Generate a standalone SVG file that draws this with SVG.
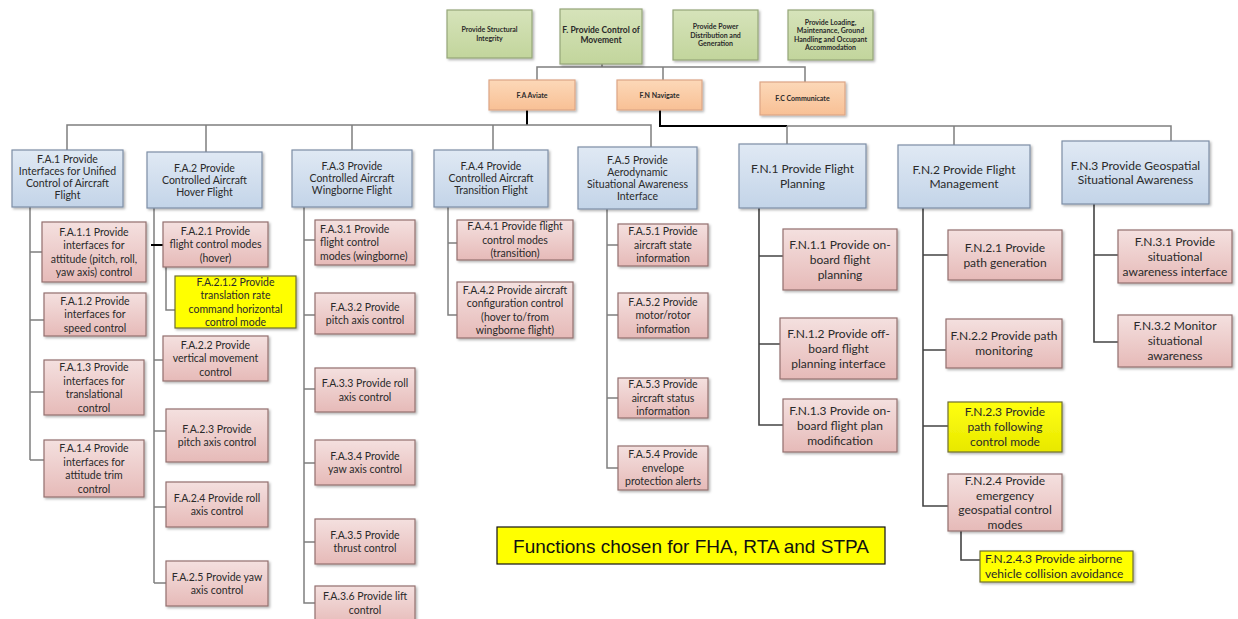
<svg xmlns="http://www.w3.org/2000/svg" width="1238" height="619" viewBox="0 0 1238 619">
  <defs>
    <linearGradient id="gBlue" x1="0" y1="0" x2="0" y2="1">
      <stop offset="0" stop-color="#e0e9f4"/>
      <stop offset="1" stop-color="#c3d4e8"/>
    </linearGradient>
    <linearGradient id="gPink" x1="0" y1="0" x2="0" y2="1">
      <stop offset="0" stop-color="#f4e0df"/>
      <stop offset="1" stop-color="#e6bab8"/>
    </linearGradient>
    <linearGradient id="gGreen" x1="0" y1="0" x2="0" y2="1">
      <stop offset="0" stop-color="#d6e3ba"/>
      <stop offset="1" stop-color="#c2d59c"/>
    </linearGradient>
    <linearGradient id="gOrange" x1="0" y1="0" x2="0" y2="1">
      <stop offset="0" stop-color="#fcd8b8"/>
      <stop offset="1" stop-color="#f8c095"/>
    </linearGradient>
    <linearGradient id="gYellow" x1="0" y1="0" x2="0" y2="1">
      <stop offset="0" stop-color="#ffff10"/>
      <stop offset="1" stop-color="#e8e800"/>
    </linearGradient>
    <filter id="shadow" x="-10%" y="-10%" width="130%" height="140%">
      <feDropShadow dx="1.5" dy="1.5" stdDeviation="1" flood-color="#000" flood-opacity="0.3"/>
    </filter>
  </defs>
  <style>
    rect { filter: url(#shadow); stroke-width: 1.2; }
    .green { fill: url(#gGreen); stroke: #95a679; }
    .orange { fill: url(#gOrange); stroke: #dca585; }
    .blue { fill: url(#gBlue); stroke: #7d8ea6; }
    .pink { fill: url(#gPink); stroke: #93706f; }
    .yellow { fill: #ffff00; stroke: #6f6f30; }
    .yellow2 { fill: url(#gYellow); stroke: #6f6f30; }
    text { font-family: Lato, "Open Sans", "Liberation Sans", sans-serif; fill: #2a2a2a; text-anchor: middle; }
    .tb { font-size: 7px; font-weight: bold; }
    .tb2 { font-size: 8.5px; font-weight: bold; }
    .fa { font-size: 10.5px; }
    .fn { font-size: 12px; }
    .left { text-anchor: start; }
    .legend { font-family: "Liberation Sans", Arial, sans-serif; font-size: 19px; fill: #111; }
    .c { fill: none; stroke: #7f7f7f; stroke-width: 1.5; }
    .cd { fill: none; stroke: #444; stroke-width: 1.6; }
    .ck { fill: none; stroke: #000; stroke-width: 2; }
  </style>

  <!-- connectors -->
  <g id="connectors">
    <!-- top level -->
    <path class="c" d="M602 64 V67 M537 80 V67 H805 V82 M663 67 V80"/>
    <!-- Aviate branch -->
    <path class="ck" d="M527 110 V125"/>
    <path class="c" d="M67 150 V125 H651 V147 M206 125 V152 M352 125 V150 M493 125 V150"/>
    <!-- Navigate branch -->
    <path class="ck" d="M660 110 V126 H787"/>
    <path class="c" d="M787 126 H1171 V141 M787 126 V144 M954 126 V145"/>
    <!-- F.A.1 children -->
    <path class="c" d="M30 207 V460 M30 252 H42 M30 320 H44 M30 392 H44 M30 460 H44"/>
    <!-- F.A.2 children -->
    <path class="c" d="M154 208 V583 M154 360 H163 M154 431 H166 M154 507 H166 M154 583 H166"/>
    <path class="ck" d="M151 245 H163"/>
    <path class="c" d="M166 267 V310 H175"/>
    <!-- F.A.3 children -->
    <path class="c" d="M304 207 V603 H315 M304 240 H315 M304 315 H315 M304 389 H315 M304 463 H315 M304 542 H315"/>
    <!-- F.A.4 children -->
    <path class="c" d="M448 207 V315 H457 M448 243 H457"/>
    <!-- F.A.5 children -->
    <path class="c" d="M607 209 V468 H618 M607 245 H618 M607 315 H618 M607 398 H618"/>
    <!-- F.N.1 children -->
    <path class="cd" d="M759 208 V425 H783 M759 256 H783 M759 344 H780"/>
    <!-- F.N.2 children -->
    <path class="cd" d="M923 208 V506 H948 M923 255 H948 M923 350 H946 M923 426 H948"/>
    <path class="cd" d="M961 531 V560 H980"/>
    <!-- F.N.3 children -->
    <path class="cd" d="M1094 204 V342 H1118 M1094 255 H1118"/>
  </g>

  <!-- top level functions -->
  <g id="structural">
    <rect class="green" x="447" y="10" width="85" height="48"/>
    <text class="tb" x="489.5" y="32"><tspan x="489.5">Provide Structural</tspan><tspan x="489.5" dy="8.5">Integrity</tspan></text>
  </g>
  <g id="f">
    <rect class="green" x="560" y="9" width="82" height="55"/>
    <text class="tb2" x="601" y="33"><tspan x="601">F. Provide Control of</tspan><tspan x="601" dy="10">Movement</tspan></text>
  </g>
  <g id="power">
    <rect class="green" x="673" y="10" width="85" height="50"/>
    <text class="tb" x="715.5" y="29"><tspan x="715.5">Provide Power</tspan><tspan x="715.5" dy="8.5">Distribution and</tspan><tspan x="715.5" dy="8.5">Generation</tspan></text>
  </g>
  <g id="loading">
    <rect class="green" x="788" y="10" width="85" height="50"/>
    <text class="tb" x="830.5" y="24.5"><tspan x="830.5">Provide Loading,</tspan><tspan x="830.5" dy="8.5">Maintenance, Ground</tspan><tspan x="830.5" dy="8.5">Handling and Occupant</tspan><tspan x="830.5" dy="8.5">Accommodation</tspan></text>
  </g>

  <g id="fa">
    <rect class="orange" x="489" y="80" width="86" height="30"/>
    <text class="tb" x="532" y="97.5">F.A Aviate</text>
  </g>
  <g id="fn">
    <rect class="orange" x="617" y="80" width="85" height="30"/>
    <text class="tb" x="659.5" y="97.5">F.N Navigate</text>
  </g>
  <g id="fc">
    <rect class="orange" x="760" y="82" width="85" height="33"/>
    <text class="tb" x="802.5" y="101">F.C Communicate</text>
  </g>

  <!-- F.A.1 -->
  <g id="fa1">
    <rect class="blue" x="12" y="150" width="111" height="57"/>
    <text class="fa" y="163"><tspan x="67.5">F.A.1 Provide</tspan><tspan x="67.5" dy="12">Interfaces for Unified</tspan><tspan x="67.5" dy="12">Control of Aircraft</tspan><tspan x="67.5" dy="12">Flight</tspan></text>
  </g>
  <g id="fa11">
    <rect class="pink" x="42" y="222" width="104" height="60"/>
    <text class="fa" y="235.5"><tspan x="94">F.A.1.1 Provide</tspan><tspan x="94" dy="13.5">interfaces for</tspan><tspan x="94" dy="13.5">attitude (pitch, roll,</tspan><tspan x="94" dy="13.5">yaw axis) control</tspan></text>
  </g>
  <g id="fa12">
    <rect class="pink" x="44" y="293" width="102" height="43"/>
    <text class="fa" y="304.8"><tspan x="95">F.A.1.2 Provide</tspan><tspan x="95" dy="13.5">interfaces for</tspan><tspan x="95" dy="13.5">speed control</tspan></text>
  </g>
  <g id="fa13">
    <rect class="pink" x="44" y="360" width="100" height="55"/>
    <text class="fa" y="371"><tspan x="94">F.A.1.3 Provide</tspan><tspan x="94" dy="13.5">interfaces for</tspan><tspan x="94" dy="13.5">translational</tspan><tspan x="94" dy="13.5">control</tspan></text>
  </g>
  <g id="fa14">
    <rect class="pink" x="44" y="440" width="100" height="57"/>
    <text class="fa" y="452"><tspan x="94">F.A.1.4 Provide</tspan><tspan x="94" dy="13.5">interfaces for</tspan><tspan x="94" dy="13.5">attitude trim</tspan><tspan x="94" dy="13.5">control</tspan></text>
  </g>

  <!-- F.A.2 -->
  <g id="fa2">
    <rect class="blue" x="147" y="152" width="115" height="56"/>
    <text class="fa" y="171.8"><tspan x="204.5">F.A.2 Provide</tspan><tspan x="204.5" dy="12">Controlled Aircraft</tspan><tspan x="204.5" dy="12">Hover Flight</tspan></text>
  </g>
  <g id="fa21">
    <rect class="pink" x="163" y="222" width="105" height="45"/>
    <text class="fa" y="234.8"><tspan x="215.5">F.A.2.1 Provide</tspan><tspan x="215.5" dy="13.5">flight control modes</tspan><tspan x="215.5" dy="13.5">(hover)</tspan></text>
  </g>
  <g id="fa212">
    <rect class="yellow" x="175" y="276" width="121" height="52"/>
    <text class="fa" y="285.5"><tspan x="235.5">F.A.2.1.2 Provide</tspan><tspan x="235.5" dy="13.5">translation rate</tspan><tspan x="235.5" dy="13.5">command horizontal</tspan><tspan x="235.5" dy="13.5">control mode</tspan></text>
  </g>
  <g id="fa22">
    <rect class="pink" x="163" y="336" width="105" height="45"/>
    <text class="fa" y="348.8"><tspan x="215.5">F.A.2.2 Provide</tspan><tspan x="215.5" dy="13.5">vertical movement</tspan><tspan x="215.5" dy="13.5">control</tspan></text>
  </g>
  <g id="fa23">
    <rect class="pink" x="166" y="409" width="102" height="53"/>
    <text class="fa" y="432.5"><tspan x="217">F.A.2.3 Provide</tspan><tspan x="217" dy="13.5">pitch axis control</tspan></text>
  </g>
  <g id="fa24">
    <rect class="pink" x="166" y="482" width="102" height="45"/>
    <text class="fa" y="501.5"><tspan x="217">F.A.2.4 Provide roll</tspan><tspan x="217" dy="13.5">axis control</tspan></text>
  </g>
  <g id="fa25">
    <rect class="pink" x="166" y="561" width="102" height="45"/>
    <text class="fa" y="580.5"><tspan x="217">F.A.2.5 Provide yaw</tspan><tspan x="217" dy="13.5">axis control</tspan></text>
  </g>

  <!-- F.A.3 -->
  <g id="fa3">
    <rect class="blue" x="292" y="150" width="120" height="57"/>
    <text class="fa" y="170.3"><tspan x="352">F.A.3 Provide</tspan><tspan x="352" dy="12">Controlled Aircraft</tspan><tspan x="352" dy="12">Wingborne Flight</tspan></text>
  </g>
  <g id="fa31">
    <rect class="pink" x="315" y="220" width="100" height="45"/>
    <text class="fa left" y="232.8"><tspan x="320">F.A.3.1 Provide</tspan><tspan x="320" dy="13.5">flight control</tspan><tspan x="320" dy="13.5">modes (wingborne)</tspan></text>
  </g>
  <g id="fa32">
    <rect class="pink" x="315" y="293" width="100" height="41"/>
    <text class="fa" y="310.5"><tspan x="365">F.A.3.2 Provide</tspan><tspan x="365" dy="13.5">pitch axis control</tspan></text>
  </g>
  <g id="fa33">
    <rect class="pink" x="315" y="368" width="100" height="44"/>
    <text class="fa" y="387"><tspan x="365">F.A.3.3 Provide roll</tspan><tspan x="365" dy="13.5">axis control</tspan></text>
  </g>
  <g id="fa34">
    <rect class="pink" x="315" y="440" width="100" height="45"/>
    <text class="fa" y="459.5"><tspan x="365">F.A.3.4 Provide</tspan><tspan x="365" dy="13.5">yaw axis control</tspan></text>
  </g>
  <g id="fa35">
    <rect class="pink" x="315" y="519" width="100" height="45"/>
    <text class="fa" y="538.5"><tspan x="365">F.A.3.5 Provide</tspan><tspan x="365" dy="13.5">thrust control</tspan></text>
  </g>
  <g id="fa36">
    <rect class="pink" x="315" y="586" width="100" height="40"/>
    <text class="fa" y="600"><tspan x="365">F.A.3.6 Provide lift</tspan><tspan x="365" dy="13.5">control</tspan></text>
  </g>

  <!-- F.A.4 -->
  <g id="fa4">
    <rect class="blue" x="434" y="150" width="114" height="57"/>
    <text class="fa" y="170.3"><tspan x="491">F.A.4 Provide</tspan><tspan x="491" dy="12">Controlled Aircraft</tspan><tspan x="491" dy="12">Transition Flight</tspan></text>
  </g>
  <g id="fa41">
    <rect class="pink" x="457" y="220" width="116" height="40"/>
    <text class="fa" y="230.3"><tspan x="515">F.A.4.1 Provide flight</tspan><tspan x="515" dy="13.5">control modes</tspan><tspan x="515" dy="13.5">(transition)</tspan></text>
  </g>
  <g id="fa42">
    <rect class="pink" x="457" y="282" width="116" height="56"/>
    <text class="fa" y="293.5"><tspan x="515">F.A.4.2 Provide aircraft</tspan><tspan x="515" dy="13.5">configuration control</tspan><tspan x="515" dy="13.5">(hover to/from</tspan><tspan x="515" dy="13.5">wingborne flight)</tspan></text>
  </g>

  <!-- F.A.5 -->
  <g id="fa5">
    <rect class="blue" x="578" y="147" width="119" height="62"/>
    <text class="fa" y="163.8"><tspan x="637.5">F.A.5 Provide</tspan><tspan x="637.5" dy="12">Aerodynamic</tspan><tspan x="637.5" dy="12">Situational Awareness</tspan><tspan x="637.5" dy="12">Interface</tspan></text>
  </g>
  <g id="fa51">
    <rect class="pink" x="618" y="224" width="90" height="42"/>
    <text class="fa" y="235.3"><tspan x="663">F.A.5.1 Provide</tspan><tspan x="663" dy="13.5">aircraft state</tspan><tspan x="663" dy="13.5">information</tspan></text>
  </g>
  <g id="fa52">
    <rect class="pink" x="618" y="293" width="90" height="45"/>
    <text class="fa" y="305.8"><tspan x="663">F.A.5.2 Provide</tspan><tspan x="663" dy="13.5">motor/rotor</tspan><tspan x="663" dy="13.5">information</tspan></text>
  </g>
  <g id="fa53">
    <rect class="pink" x="618" y="378" width="90" height="40"/>
    <text class="fa" y="388.3"><tspan x="663">F.A.5.3 Provide</tspan><tspan x="663" dy="13.5">aircraft status</tspan><tspan x="663" dy="13.5">information</tspan></text>
  </g>
  <g id="fa54">
    <rect class="pink" x="618" y="446" width="90" height="44"/>
    <text class="fa" y="458.3"><tspan x="663">F.A.5.4 Provide</tspan><tspan x="663" dy="13.5">envelope</tspan><tspan x="663" dy="13.5">protection alerts</tspan></text>
  </g>

  <!-- F.N.1 -->
  <g id="fn1">
    <rect class="blue" x="739" y="144" width="127" height="64"/>
    <text class="fn" y="173"><tspan x="802.5">F.N.1 Provide Flight</tspan><tspan x="802.5" dy="14.5">Planning</tspan></text>
  </g>
  <g id="fn11">
    <rect class="pink" x="783" y="229" width="114" height="61"/>
    <text class="fn" y="248.8"><tspan x="840">F.N.1.1 Provide on-</tspan><tspan x="840" dy="15">board flight</tspan><tspan x="840" dy="15">planning</tspan></text>
  </g>
  <g id="fn12">
    <rect class="pink" x="780" y="318" width="117" height="61"/>
    <text class="fn" y="337.8"><tspan x="838.5">F.N.1.2 Provide off-</tspan><tspan x="838.5" dy="15">board flight</tspan><tspan x="838.5" dy="15">planning interface</tspan></text>
  </g>
  <g id="fn13">
    <rect class="pink" x="783" y="399" width="114" height="53"/>
    <text class="fn" y="414.8"><tspan x="840">F.N.1.3 Provide on-</tspan><tspan x="840" dy="15">board flight plan</tspan><tspan x="840" dy="15">modification</tspan></text>
  </g>

  <!-- F.N.2 -->
  <g id="fn2">
    <rect class="blue" x="898" y="145" width="132" height="63"/>
    <text class="fn" y="173.5"><tspan x="964">F.N.2 Provide Flight</tspan><tspan x="964" dy="14.5">Management</tspan></text>
  </g>
  <g id="fn21">
    <rect class="pink" x="948" y="230" width="114" height="50"/>
    <text class="fn" y="251.8"><tspan x="1005">F.N.2.1 Provide</tspan><tspan x="1005" dy="15">path generation</tspan></text>
  </g>
  <g id="fn22">
    <rect class="pink" x="946" y="319" width="116" height="49"/>
    <text class="fn" y="340.3"><tspan x="1004">F.N.2.2 Provide path</tspan><tspan x="1004" dy="15">monitoring</tspan></text>
  </g>
  <g id="fn23">
    <rect class="yellow2" x="948" y="402" width="114" height="50"/>
    <text class="fn" y="416.3"><tspan x="1005">F.N.2.3 Provide</tspan><tspan x="1005" dy="15">path following</tspan><tspan x="1005" dy="15">control mode</tspan></text>
  </g>
  <g id="fn24">
    <rect class="pink" x="948" y="474" width="114" height="57"/>
    <text class="fn" y="485"><tspan x="1005">F.N.2.4 Provide</tspan><tspan x="1005" dy="14.5">emergency</tspan><tspan x="1005" dy="14.5">geospatial control</tspan><tspan x="1005" dy="14.5">modes</tspan></text>
  </g>
  <g id="fn243">
    <rect class="yellow" x="980" y="551" width="153" height="31"/>
    <text class="fn left" y="563"><tspan x="985">F.N.2.4.3 Provide airborne</tspan><tspan x="985" dy="15">vehicle collision avoidance</tspan></text>
  </g>

  <!-- F.N.3 -->
  <g id="fn3">
    <rect class="blue" x="1062" y="141" width="147" height="63"/>
    <text class="fn" y="169.5"><tspan x="1135.5">F.N.3 Provide Geospatial</tspan><tspan x="1135.5" dy="14.5">Situational Awareness</tspan></text>
  </g>
  <g id="fn31">
    <rect class="pink" x="1118" y="230" width="114" height="53"/>
    <text class="fn" y="245.8"><tspan x="1175">F.N.3.1 Provide</tspan><tspan x="1175" dy="15">situational</tspan><tspan x="1175" dy="15">awareness interface</tspan></text>
  </g>
  <g id="fn32">
    <rect class="pink" x="1118" y="315" width="114" height="52"/>
    <text class="fn" y="330.3"><tspan x="1175">F.N.3.2 Monitor</tspan><tspan x="1175" dy="15">situational</tspan><tspan x="1175" dy="15">awareness</tspan></text>
  </g>

  <!-- legend -->
  <g id="legend">
    <rect x="497" y="527" width="388" height="37" fill="#ffff00" stroke="#111" stroke-width="1.5" style="filter:none"/>
    <text class="legend" x="691" y="552.5">Functions chosen for FHA, RTA and STPA</text>
  </g>
</svg>
